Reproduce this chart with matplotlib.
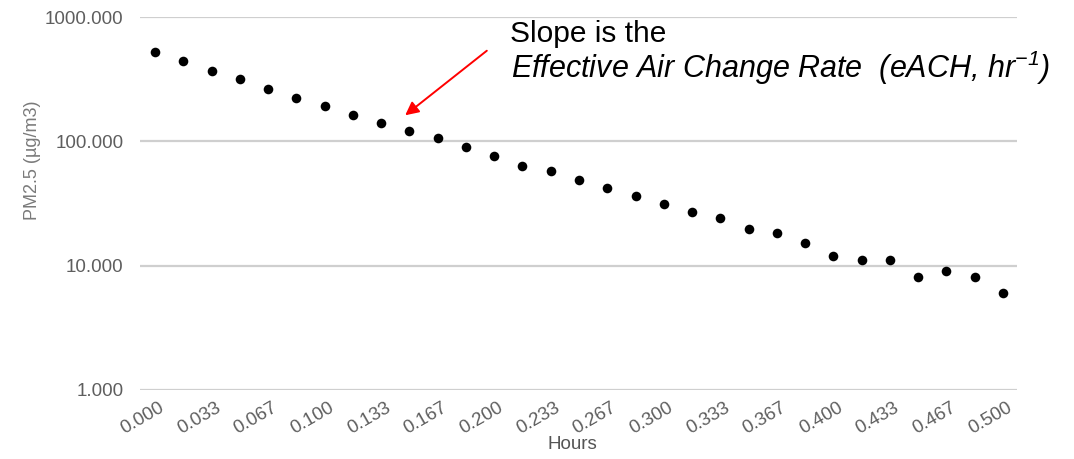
#!/usr/bin/env python3
"""PM2.5 decay on a log axis, annotated with the effective air change rate."""

import matplotlib as mpl
import matplotlib.pyplot as plt
from matplotlib.ticker import FixedLocator, NullLocator
from matplotlib.transforms import ScaledTranslation

MINUTES = [0, 1, 2, 3, 4, 5, 6, 7, 8, 9, 10, 11, 12, 13, 14, 15,
           16, 17, 18, 19, 20, 21, 22, 23, 24, 25, 26, 27, 28, 29, 30]
PM25 = [520, 443, 370, 317, 262, 223, 192, 164, 141, 121, 107, 90.5,
        76.6, 63.5, 57.4, 48.8, 42.4, 36.1, 31.3, 27.2, 24.0, 19.9,
        18.2, 15.1, 12.0, 11.2, 11.2, 8.1, 9.0, 8.1, 6.05]
XTICK_LABELS = ["0.000", "0.033", "0.067", "0.100", "0.133", "0.167",
                "0.200", "0.233", "0.267", "0.300", "0.333", "0.367",
                "0.400", "0.433", "0.467", "0.500"]
YTICKS = [1, 10, 100, 1000]

W, H = 1074, 459


def configure_matplotlib() -> None:
    mpl.rcParams.update(
        {
            "font.family": ["Liberation Sans", "DejaVu Sans"],
            "mathtext.fontset": "custom",
            "mathtext.rm": "Liberation Sans:italic",
            "mathtext.it": "Liberation Sans:italic",
        }
    )


def main() -> None:
    configure_matplotlib()
    fig = plt.figure(figsize=(W / 100, H / 100), dpi=100)
    ax = fig.add_axes([140 / W, 1 - 390 / H, 877 / W, 373 / H])

    hours = [m / 60 for m in MINUTES]
    ax.scatter(hours, PM25, s=48, color="black", zorder=3, linewidths=0)

    ax.set_yscale("log")
    ax.set_ylim(1, 1000)
    ax.set_xlim(-15 / 1696, 0.5 + 14 / 1696)

    ax.yaxis.set_major_locator(FixedLocator(YTICKS))
    ax.yaxis.set_minor_locator(NullLocator())
    ax.set_yticklabels([f"{v:.3f}" for v in YTICKS])
    ax.set_xticks(hours[::2], XTICK_LABELS)

    for side in ("top", "right", "left", "bottom"):
        ax.spines[side].set_visible(False)
    ax.grid(True, axis="y", color="#cfcfcf", linewidth=1.6)
    ax.set_axisbelow(True)
    ax.tick_params(axis="y", length=0, pad=12, labelsize=13.5, labelcolor="#5e5e5e")
    ax.tick_params(axis="x", length=0, pad=12, labelsize=13.5, labelcolor="#5e5e5e")

    # rotated labels end just right of their tick, like the source chart
    shift = ScaledTranslation(8 / 100, 0, fig.dpi_scale_trans)
    for lab in ax.get_xticklabels():
        lab.set_rotation(30)
        lab.set_rotation_mode("anchor")
        lab.set_ha("right")
        lab.set_va("center")
        lab.set_transform(lab.get_transform() + shift)

    ax.set_ylabel("PM2.5 (µg/m3)", fontsize=13, color="#7a7a7a")
    ax.yaxis.set_label_coords(-0.113, 0.617)
    ax.set_xlabel("Hours", fontsize=13.5, color="#555555")
    ax.xaxis.set_label_coords(0.4926, -0.122)

    fig.text(510 / W, 1 - 42 / H, "Slope is the", fontsize=21.5,
             color="black", va="baseline", ha="left")
    fig.text(511 / W, 1 - 78 / H,
             "Effective Air Change Rate  (eACH, hr$^{-1}$)", fontsize=22,
             style="italic", color="black", va="baseline", ha="left")

    fig.patches.append(
        mpl.patches.FancyArrowPatch(
            (489 / W, 1 - 49 / H), (403 / W, 1 - 117 / H),
            transform=fig.transFigure, arrowstyle="-|>", mutation_scale=20,
            color="#ff0000", linewidth=1.4,
        )
    )

    fig.savefig("out.png", dpi=100)
    plt.close(fig)


if __name__ == "__main__":
    main()
